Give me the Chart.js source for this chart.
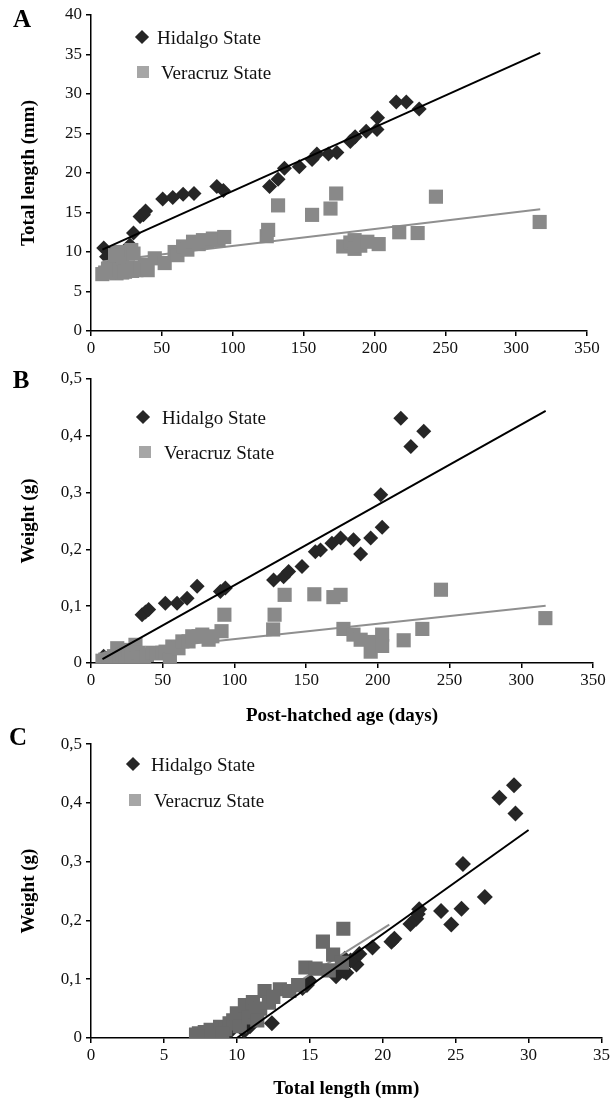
<!DOCTYPE html>
<html>
<head>
<meta charset="utf-8">
<title>Growth of juveniles</title>
<script src="https://cdn.jsdelivr.net/npm/chart.js@4.4.1/dist/chart.umd.min.js"></script>
<style>
    body { margin: 0; background: #fff; font-family: "Liberation Serif", "Times New Roman", serif; }
    #page { position: relative; width: 612px; height: 1103px; overflow: hidden; }
    .panel { position: absolute; left: 0; width: 612px; }
    .letter { position: absolute; font-weight: bold; font-size: 25px; line-height: 1; transform: translate(-50%, -50%); }
    .lg-text { position: absolute; font-size: 19px; line-height: 1; transform: translateY(-50%); color: #111; white-space: nowrap; }
    .lg-dia { position: absolute; width: 10px; height: 10px; background: #262626; transform: translate(-50%, -50%) rotate(45deg); }
    .lg-sq { position: absolute; width: 12px; height: 12px; background: #a6a6a6; transform: translate(-50%, -50%); }
</style>
</head>
<body>
<div id="page">
    <div class="panel" style="top:0;height:360px"><canvas id="chartA"></canvas></div>
    <div class="panel" style="top:360px;height:370px"><canvas id="chartB"></canvas></div>
    <div class="panel" style="top:730px;height:373px"><canvas id="chartC"></canvas></div>

    <div class="letter" style="left:22px;top:18px">A</div>
    <div class="letter" style="left:21px;top:379px">B</div>
    <div class="letter" style="left:18px;top:736px">C</div>

    <div class="lg-dia" style="left:142px;top:37px"></div>
    <div class="lg-text" style="left:157px;top:37px">Hidalgo State</div>
    <div class="lg-sq" style="left:143px;top:72px"></div>
    <div class="lg-text" style="left:161px;top:72px">Veracruz State</div>

    <div class="lg-dia" style="left:143px;top:417px"></div>
    <div class="lg-text" style="left:162px;top:417px">Hidalgo State</div>
    <div class="lg-sq" style="left:145px;top:452px"></div>
    <div class="lg-text" style="left:164px;top:452px">Veracruz State</div>

    <div class="lg-dia" style="left:133px;top:764px"></div>
    <div class="lg-text" style="left:151px;top:764px">Hidalgo State</div>
    <div class="lg-sq" style="left:135px;top:800px"></div>
    <div class="lg-text" style="left:154px;top:800px">Veracruz State</div>
</div>

<script>
// ---- Panel A: total length (mm) vs post-hatched age (days)
const hidalgoAgeA = [9, 11, 19, 27.5, 30, 34.6, 37, 38.5, 50.6, 57.7, 65, 72.7, 88.8, 93.4, 126, 132, 136.5, 147, 156, 159.4, 167.6, 173.5, 183, 186.4, 194.2, 201.8, 202.2, 215.4, 222.5, 231.6];
const hidalgoLengthA = [10.5, 9.4, 8.6, 10.9, 12.4, 14.5, 14.7, 15.2, 16.7, 16.9, 17.3, 17.4, 18.3, 17.8, 18.3, 19.2, 20.6, 20.8, 21.7, 22.4, 22.4, 22.6, 24.0, 24.6, 25.3, 25.5, 27.0, 29.0, 29.0, 28.1];
const veracruzAgeA = [8, 10, 12, 15, 18, 20, 22, 24, 26, 29, 32, 35, 38, 40, 17, 19, 22, 26, 28.4, 30, 45, 52, 59, 61, 65, 68, 72, 76, 79, 82, 86, 90, 94, 124, 125, 132, 156, 169, 173, 178, 183, 186, 186, 190, 195, 203, 217.5, 230.5, 243.4, 316.6];
const veracruzLengthA = [7.2, 7.4, 7.9, 7.6, 7.3, 7.8, 7.4, 7.5, 8.0, 7.6, 7.7, 8.0, 8.4, 7.7, 9.6, 10.0, 9.5, 9.8, 10.25, 9.8, 9.2, 8.6, 10.0, 9.6, 10.7, 10.3, 11.3, 11.0, 11.5, 11.3, 11.7, 11.5, 11.9, 12.0, 12.8, 15.9, 14.7, 15.5, 17.4, 10.7, 11.2, 11.5, 10.4, 10.8, 11.3, 11.0, 12.5, 12.4, 17.0, 13.8];
const trendAgeA = [8, 317];
const hidalgoTrendA = [10.3, 35.2];
const veracruzTrendA = [8.8, 15.4];

// ---- Panel B: weight (g) vs post-hatched age (days)
const hidalgoAgeB = [8.8, 11, 19, 27.5, 30, 35.6, 38, 40.2, 51.8, 60, 67, 74, 90.2, 93.7, 127.3, 134.3, 137.8, 147.1, 156.4, 160, 168, 174, 183, 188, 195, 202, 203, 216, 223, 232];
const hidalgoWeightB = [0.012, 0.008, 0.015, 0.02, 0.025, 0.085, 0.09, 0.094, 0.105, 0.105, 0.114, 0.135, 0.126, 0.132, 0.146, 0.152, 0.161, 0.17, 0.196, 0.199, 0.211, 0.22, 0.217, 0.192, 0.22, 0.296, 0.239, 0.431, 0.381, 0.408];
const veracruzAgeB = [8, 10, 12, 14, 16, 18.3, 20, 22, 24, 26.5, 28, 31, 33, 35, 37, 39, 42.7, 46, 49.7, 52, 55, 56.7, 61, 63.7, 68, 70.6, 75, 77.6, 82, 84.6, 91, 93, 127, 128, 135, 155.7, 169, 174, 176, 183, 188, 195, 196, 203, 203, 218, 231, 244, 316.8];
const veracruzWeightB = [0.004, 0.006, 0.003, 0.008, 0.012, 0.026, 0.01, 0.015, 0.006, 0.023, 0.012, 0.032, 0.018, 0.01, 0.007, 0.014, 0.018, 0.017, 0.018, 0.02, 0.006, 0.029, 0.026, 0.038, 0.038, 0.047, 0.047, 0.05, 0.041, 0.047, 0.056, 0.085, 0.059, 0.085, 0.12, 0.121, 0.116, 0.12, 0.06, 0.05, 0.041, 0.02, 0.037, 0.05, 0.03, 0.04, 0.06, 0.129, 0.079];
const trendAgeB = [8, 317];
const hidalgoTrendB = [0.007, 0.444];
const veracruzTrendB = [0.017, 0.101];

// ---- Panel C: weight (g) vs total length (mm)
const hidalgoLengthC = [10.5, 9.4, 8.6, 10.9, 12.4, 14.5, 14.8, 15.0, 16.8, 17.5, 17.3, 17.4, 18.2, 17.8, 18.4, 19.3, 20.6, 20.8, 21.9, 22.3, 22.4, 22.5, 24.0, 24.7, 25.4, 25.5, 27.0, 29.0, 29.1, 28.0];
const hidalgoWeightC = [0.012, 0.008, 0.015, 0.02, 0.025, 0.085, 0.09, 0.097, 0.105, 0.111, 0.114, 0.135, 0.125, 0.132, 0.143, 0.154, 0.164, 0.169, 0.194, 0.203, 0.211, 0.219, 0.216, 0.193, 0.22, 0.296, 0.24, 0.43, 0.382, 0.409];
const veracruzLengthC = [7.2, 7.4, 7.6, 7.8, 8.0, 8.2, 8.5, 8.85, 9.2, 9.5, 9.75, 10.0, 10.2, 10.55, 10.8, 11.1, 11.3, 11.6, 11.9, 12.2, 12.95, 13.6, 14.2, 14.7, 15.4, 15.9, 16.6, 17.2, 17.3, 16.3, 7.5, 8.3, 9.0, 11.4, 12.5];
const veracruzWeightC = [0.006, 0.008, 0.004, 0.01, 0.006, 0.014, 0.01, 0.019, 0.015, 0.025, 0.03, 0.042, 0.02, 0.056, 0.035, 0.061, 0.045, 0.05, 0.08, 0.06, 0.083, 0.08, 0.09, 0.12, 0.118, 0.164, 0.142, 0.128, 0.186, 0.115, 0.002, 0.004, 0.008, 0.03, 0.07];
const hidalgoTrendLengthC = [10.0, 30.0];
const hidalgoTrendC = [0, 0.354];
const veracruzTrendLengthC = [8.1, 20.45];
const veracruzTrendC = [0, 0.193];

const HIDALGO = "Hidalgo State";
const VERACRUZ = "Veracruz State";

function toPoints(xs, ys) {
    return xs.map((x, i) => ({ x: x, y: ys[i] }));
}

function pointSet(label, xs, ys, style, color, radius, order) {
    return {
        label: label,
        data: toPoints(xs, ys),
        pointStyle: style,
        pointRadius: radius,
        pointHoverRadius: radius,
        pointBackgroundColor: color,
        pointBorderWidth: 0,
        backgroundColor: color,
        borderColor: color,
        showLine: false,
        order: order,
    };
}

function trendSet(label, xs, ys, color, order) {
    return {
        label: label,
        data: toPoints(xs, ys),
        showLine: true,
        borderColor: color,
        borderWidth: 2,
        pointRadius: 0,
        fill: false,
        order: order,
    };
}

const tickFont = { family: "'Liberation Serif', 'Times New Roman', serif", size: 17 };
const titleFont = { family: "'Liberation Serif', 'Times New Roman', serif", size: 19, weight: "bold" };
const axisGrid = { display: true, drawOnChartArea: false, drawTicks: true, tickLength: 5, color: "#000", lineWidth: 1.5 };
const axisBorder = { display: true, color: "#000", width: 1.5 };

function commaDecimal(value) {
    return value === 0 ? "0" : value.toFixed(1).replace(".", ",");
}

function buildChart(canvasId, setup) {
    return new Chart(document.getElementById(canvasId).getContext("2d"), {
        type: "scatter",
        data: { datasets: setup.datasets },
        options: {
            responsive: true,
            maintainAspectRatio: false,
            animation: false,
            events: [],
            layout: { padding: setup.padding },
            plugins: {
                legend: { display: false },
                tooltip: { enabled: false },
            },
            scales: {
                x: {
                    type: "linear",
                    min: 0,
                    max: setup.xMax,
                    ticks: { stepSize: setup.xStep, font: tickFont, color: "#111", padding: 2 },
                    grid: axisGrid,
                    border: axisBorder,
                    title: setup.xTitle
                        ? { display: true, text: setup.xTitle, font: titleFont, color: "#000", padding: { top: 0, bottom: 3 } }
                        : { display: false },
                    afterFit: function (scale) {
                        scale.height = setup.xHeight;
                    },
                },
                y: {
                    type: "linear",
                    min: 0,
                    max: setup.yMax,
                    ticks: { stepSize: setup.yStep, font: tickFont, color: "#111", padding: 4, callback: setup.yFormat },
                    grid: axisGrid,
                    border: axisBorder,
                    title: { display: true, text: setup.yTitle, font: titleFont, color: "#000", padding: { top: 18, bottom: 0 } },
                    afterFit: function (scale) {
                        scale.width = 91;
                    },
                },
            },
        },
    });
}

// lower order is drawn on top: Hidalgo line > Veracruz squares > Veracruz line > Hidalgo diamonds
buildChart("chartA", {
    xMax: 350, xStep: 50, yMax: 40, yStep: 5,
    yTitle: "Total length (mm)",
    yFormat: (v) => v,
    padding: { top: 15, right: 25, left: 0, bottom: 0 },
    xHeight: 29,
    datasets: [
        trendSet(HIDALGO, trendAgeA, hidalgoTrendA, "#000", 0),
        pointSet(VERACRUZ, veracruzAgeA, veracruzLengthA, "rect", "#898989", 10, 1),
        trendSet(VERACRUZ, trendAgeA, veracruzTrendA, "#8f8f8f", 2),
        pointSet(HIDALGO, hidalgoAgeA, hidalgoLengthA, "rectRot", "#262626", 7.5, 3),
    ],
});

buildChart("chartB", {
    xMax: 350, xStep: 50, yMax: 0.5, yStep: 0.1,
    yTitle: "Weight (g)",
    xTitle: "Post-hatched age (days)",
    yFormat: commaDecimal,
    padding: { top: 19, right: 19, left: 0, bottom: 0 },
    xHeight: 67,
    datasets: [
        trendSet(HIDALGO, trendAgeB, hidalgoTrendB, "#000", 0),
        pointSet(VERACRUZ, veracruzAgeB, veracruzWeightB, "rect", "#898989", 10, 1),
        trendSet(VERACRUZ, trendAgeB, veracruzTrendB, "#8f8f8f", 2),
        pointSet(HIDALGO, hidalgoAgeB, hidalgoWeightB, "rectRot", "#262626", 7.5, 3),
    ],
});

buildChart("chartC", {
    xMax: 35, xStep: 5, yMax: 0.5, yStep: 0.1,
    yTitle: "Weight (g)",
    xTitle: "Total length (mm)",
    yFormat: commaDecimal,
    padding: { top: 8, right: 10, left: 0, bottom: 0 },
    xHeight: 65,
    datasets: [
        trendSet(HIDALGO, hidalgoTrendLengthC, hidalgoTrendC, "#000", 0),
        pointSet(VERACRUZ, veracruzLengthC, veracruzWeightC, "rect", "#6a6a6a", 10, 1),
        trendSet(VERACRUZ, veracruzTrendLengthC, veracruzTrendC, "#8f8f8f", 2),
        pointSet(HIDALGO, hidalgoLengthC, hidalgoWeightC, "rectRot", "#262626", 8, 3),
    ],
});
</script>
</body>
</html>
